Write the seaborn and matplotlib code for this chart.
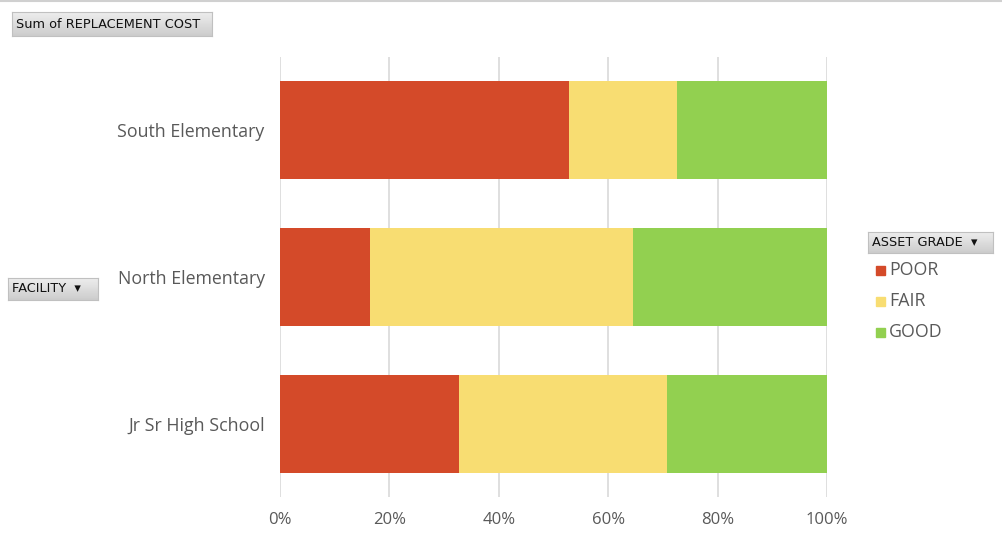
import numpy as np
import pandas as pd
import matplotlib
matplotlib.use("Agg")
import matplotlib.pyplot as plt
import seaborn as sns
from matplotlib.patches import Rectangle

# dati (percentuali di REPLACEMENT COST per grado)
facilities = ["South Elementary", "North Elementary", "Jr Sr High School"]
grades = ["POOR", "FAIR", "GOOD"]
poor = [52.8, 16.5, 32.7]
fair = [19.8, 48.0, 38.0]
good = [27.4, 35.5, 29.3]
tick_labels = ["0%", "20%", "40%", "60%", "80%", "100%"]

colors = {"POOR": "#D44A29", "FAIR": "#F8DD72", "GOOD": "#92D050"}
text_col = "#595959"

sns.set_theme(style="white")
plt.rcParams['font.family'] = ['Open Sans', 'DejaVu Sans']

df = pd.DataFrame({"FACILITY": facilities, "POOR": poor, "FAIR": fair, "GOOD": good})
df["c_poor"] = df["POOR"]
df["c_fair"] = df["POOR"] + df["FAIR"]
df["c_good"] = df["c_fair"] + df["GOOD"]

fig = plt.figure(figsize=(10.02, 5.37), dpi=100)
ax = fig.add_axes([280 / 1002, 1 - 497 / 537, (827 - 280) / 1002, (497 - 57) / 537])

# barre impilate: prima il totale, poi le somme parziali sopra
for col, g in [("c_good", "GOOD"), ("c_fair", "FAIR"), ("c_poor", "POOR")]:
    sns.barplot(data=df, x=col, y="FACILITY", order=facilities, orient="h",
                color=colors[g], width=0.667, saturation=1, linewidth=0, ax=ax, zorder=3)

ax.set_xlim(0, 100)
ax.set_ylim(2.5, -0.5)
ax.set_xticks(np.arange(0, 101, 20))
ax.set_xticklabels(tick_labels)
ax.set_xlabel("")
ax.set_ylabel("")
for s in ax.spines.values():
    s.set_visible(False)
ax.grid(axis="x", color="#D9D9D9", linewidth=1.2, zorder=0)
ax.grid(axis="y", visible=False)
ax.tick_params(axis="x", colors=text_col, labelsize=12, length=0, pad=11)
ax.tick_params(axis="y", colors=text_col, labelsize=12.8, length=0, pad=11)

# legenda manuale
for i, g in enumerate(grades):
    yy = 1 - (270 + 31 * i) / 537
    fig.patches.append(Rectangle((876 / 1002, yy - 4.5 / 537), 9 / 1002, 9 / 537,
                                 transform=fig.transFigure, color=colors[g]))
    fig.text(889 / 1002, yy, g, color=text_col, fontsize=12.8, va="center", ha="left")

# pulsanti dei campi della tabella pivot (sfumatura grigia)
grad = np.linspace(0.93, 0.80, 32).reshape(-1, 1)

def button(x0, y0, x1, y1, label):
    bax = fig.add_axes([x0 / 1002, 1 - y1 / 537, (x1 - x0) / 1002, (y1 - y0) / 537])
    bax.imshow(grad, cmap="gray", vmin=0, vmax=1, aspect="auto", extent=(0, 1, 0, 1))
    bax.set_xticks([])
    bax.set_yticks([])
    for s in bax.spines.values():
        s.set_color("#C0C0C0")
        s.set_linewidth(0.8)
    bax.text(4 / (x1 - x0), 0.5, label, fontsize=9.3, color="#111111",
             va="center", ha="left", family=["DejaVu Sans"], transform=bax.transAxes)

button(12, 12, 212, 36, "Sum of REPLACEMENT COST")
button(8, 278, 98, 300, "FACILITY  \u25BE")
button(868, 232, 993, 253, "ASSET GRADE  \u25BE")

fig.add_artist(plt.Line2D([0, 1], [1 - 1 / 537, 1 - 1 / 537], color="#D0D0D0",
                          linewidth=1.5, transform=fig.transFigure))

fig.savefig("out.png", dpi=100)
